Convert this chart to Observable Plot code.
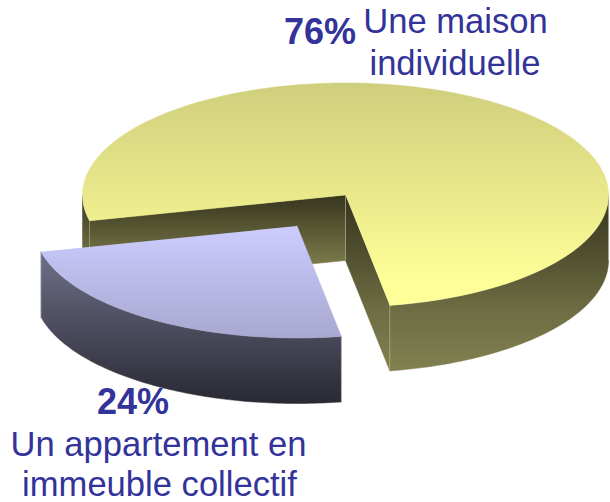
<!DOCTYPE html>
<html lang="fr">
<head>
<meta charset="utf-8">
<script src="https://cdn.jsdelivr.net/npm/d3@7"></script>
<script src="https://cdn.jsdelivr.net/npm/@observablehq/plot@0.6"></script>
<style>
html,body{margin:0;padding:0;background:#fff}
svg{display:block}
</style>
</head>
<body>
<div id="chart"></div>
<script>
const categories = ["Une maison individuelle", "Un appartement en immeuble collectif"];
const shares = [76, 24];
const percentLabels = ["76%", "24%"];
const nameLines = [["Une maison", "individuelle"], ["Un appartement en", "immeuble collectif"]];

const W = 610, H = 502;
const rx = 263, ry = 112, depth = 65.5;
const startAngle = 166.7;
const pies = [{cx: 345, cy: 194.5}, {cx: 296.5, cy: 225.5}]; // second slice is pulled out

let a = startAngle;
const slices = shares.map((s, i) => {
  const t0 = a, t1 = a + s * 3.6;
  a = t1;
  return {category: categories[i], t0, t1, ...pies[i]};
});

const pt = (p, t, dz = 0) => {
  const r = t * Math.PI / 180;
  return {x: p.cx + rx * Math.cos(r), y: p.cy + ry * Math.sin(r) + dz};
};
const arc = (p, t0, t1, dz = 0) => {
  const out = [];
  const n = Math.max(1, Math.ceil(Math.abs(t1 - t0)));
  for (let k = 0; k <= n; k++) out.push(pt(p, t0 + (t1 - t0) * k / n, dz));
  return out;
};
const centre = (p, dz = 0) => ({x: p.cx, y: p.cy + dz});
const topFace = p => [centre(p), ...arc(p, p.t0, p.t1)];
const rim = (p, t0, t1) => [...arc(p, t0, t1), ...arc(p, t1, t0, depth)];
const wall = (p, t) => [centre(p), pt(p, t), pt(p, t, depth), centre(p, depth)];

const [house, flat] = slices;

function gradient(defs, id, y1, y2, stops) {
  const g = defs.append("linearGradient").attr("id", id)
    .attr("gradientUnits", "userSpaceOnUse")
    .attr("x1", 0).attr("x2", 0).attr("y1", y1).attr("y2", y2);
  stops.forEach(([o, c]) => g.append("stop").attr("offset", o).attr("stop-color", c));
}
const defsMark = () => {
  const defs = d3.create("svg:defs");
  gradient(defs, "houseTop", 83, 285, [[0, "#cfce7c"], [1, "#ffff99"]]);
  gradient(defs, "houseSide", 195, 369, [[0, "#37351d"], [0.3, "#4d4c2d"], [0.65, "#6d6c43"], [1, "#81804f"]]);
  gradient(defs, "houseBack", 195, 265, [[0, "#37351d"], [1, "#7d7c4c"]]);
  gradient(defs, "flatTop", 226, 336, [[0, "#ccccff"], [1, "#a8a8d0"]]);
  gradient(defs, "flatSide", 253, 403, [[0, "#6e6e88"], [1, "#292933"]]);
  return defs.node();
};

const face = (points, fill, extra = {}) =>
  Plot.line(points, {x: "x", y: "y", fill, stroke: fill, strokeWidth: 0.5, curve: "linear", ...extra});
const edge = (points, stroke) =>
  Plot.line(points, {x: "x", y: "y", stroke, strokeWidth: 1, strokeOpacity: 0.5});

const textColor = "#333399";
const font = {fontFamily: "Liberation Sans, Arial, sans-serif", fill: textColor, lineAnchor: "bottom", textAnchor: "middle"};
const percentPos = [{x: 319.5, y: 43.5}, {x: 132.5, y: 413.5}];
const namePos = [[{x: 455, y: 32}, {x: 454.5, y: 74}], [{x: 158, y: 455.5}, {x: 159, y: 495.5}]];
const percentData = percentLabels.map((text, i) => ({text, ...percentPos[i]}));
const nameData = nameLines.flatMap((lines, i) => lines.map((text, j) => ({text, ...namePos[i][j]})));

const chart = Plot.plot({
  width: W, height: H,
  marginTop: 0, marginRight: 0, marginBottom: 0, marginLeft: 0,
  x: {domain: [0, W], range: [0, W], axis: null},
  y: {domain: [0, H], range: [0, H], axis: null},
  style: {background: "#fff"},
  marks: [
    defsMark,
    // Large slice: outer rim, cut walls, top
    face(rim(house, house.t0, 180), "url(#houseBack)"),
    face(rim(house, 360, house.t1), "url(#houseSide)"),
    face(wall(house, house.t0), "url(#houseBack)"),
    face(wall(house, house.t1), "url(#houseSide)"),
    edge([pt(house, house.t0), pt(house, house.t0, depth)], "#b5b48a"),
    edge([centre(house), centre(house, depth)], "#b5b48a"),
    edge([pt(house, house.t1), pt(house, house.t1, depth)], "#c5c49a"),
    face(topFace(house), "url(#houseTop)"),
    // Pulled-out slice: rim, top
    face(rim(flat, flat.t0, flat.t1), "url(#flatSide)"),
    edge([pt(flat, flat.t0), pt(flat, flat.t0, depth)], "#9a9ab0"),
    edge([pt(flat, flat.t1), pt(flat, flat.t1, depth)], "#9a9ab0"),
    face(topFace(flat), "url(#flatTop)"),
    // Labels
    Plot.text(percentData, {x: "x", y: "y", text: "text", fontSize: 36, fontWeight: "bold", ...font}),
    Plot.text(nameData, {x: "x", y: "y", text: "text", fontSize: 34.6, ...font})
  ]
});
document.getElementById("chart").append(chart);
</script>
</body>
</html>
